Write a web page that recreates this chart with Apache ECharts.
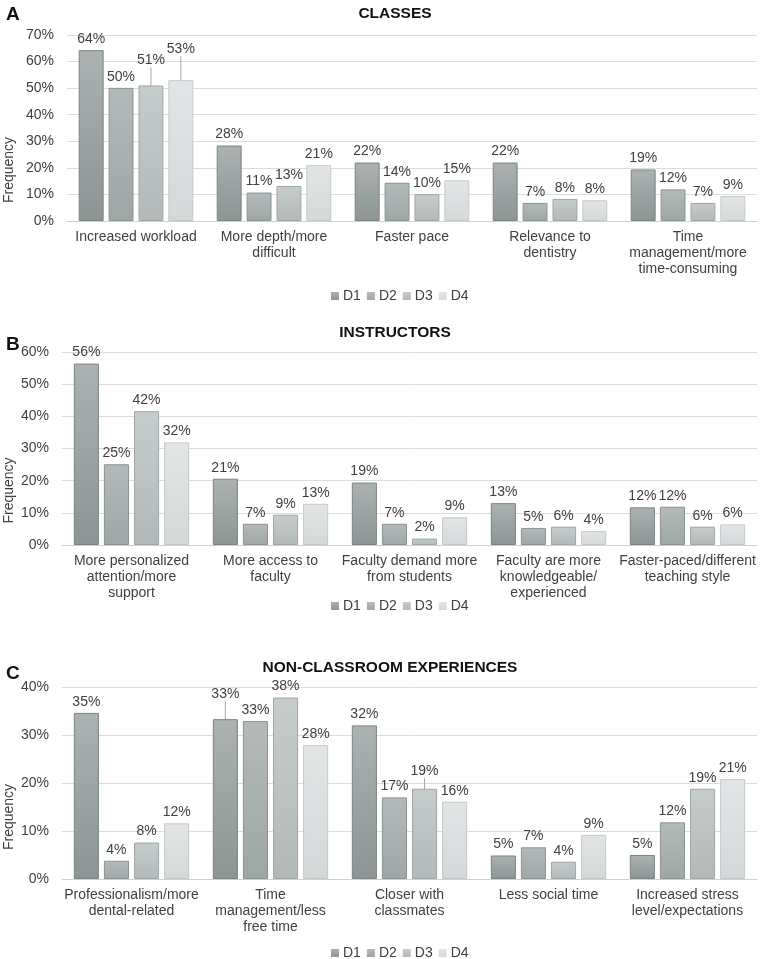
<!DOCTYPE html>
<html>
<head>
<meta charset="utf-8">
<script src="https://cdn.jsdelivr.net/npm/echarts@6/dist/echarts.min.js"></script>
<style>
html,body{margin:0;padding:0;background:#fff;}
#chart{width:761px;height:959px;}
</style>
</head>
<body>
<div id="chart"></div>
<script>
// ---- Data ----
const seriesNames = ['D1', 'D2', 'D3', 'D4'];

const categoriesA = ['Increased workload', 'More depth/more\ndifficult', 'Faster pace', 'Relevance to\ndentistry', 'Time\nmanagement/more\ntime-consuming'];
const classesD1 = [64.3, 28.4, 22.0, 22.0, 19.4];
const classesD2 = [50.1, 10.7, 14.4, 6.8, 11.9];
const classesD3 = [51.0, 13.2, 10.1, 8.3, 6.8];
const classesD4 = [53.0, 21.0, 15.3, 7.8, 9.4];
const ticksA = { max: 70, interval: 10 };

const categoriesB = ['More personalized\nattention/more\nsupport', 'More access to\nfaculty', 'Faculty demand more\nfrom students', 'Faculty are more\nknowledgeable/\nexperienced', 'Faster-paced/different\nteaching style'];
const instructorsD1 = [56.4, 20.6, 19.4, 13.0, 11.7];
const instructorsD2 = [25.1, 6.6, 6.6, 5.3, 11.9];
const instructorsD3 = [41.6, 9.4, 2.0, 5.7, 5.7];
const instructorsD4 = [31.9, 12.8, 8.6, 4.3, 6.4];
const ticksB = { max: 60, interval: 10 };

const categoriesC = ['Professionalism/more\ndental-related', 'Time\nmanagement/less\nfree time', 'Closer with\nclassmates', 'Less social time', 'Increased stress\nlevel/expectations'];
const nonClassD1 = [34.6, 33.3, 32.0, 4.9, 5.0];
const nonClassD2 = [3.8, 32.9, 17.0, 6.6, 11.8];
const nonClassD3 = [7.6, 37.8, 18.8, 3.6, 18.8];
const nonClassD4 = [11.6, 27.9, 16.1, 9.2, 20.8];
const ticksC = { max: 40, interval: 10 };

const panelTitles = ['CLASSES', 'INSTRUCTORS', 'NON-CLASSROOM EXPERIENCES'];
const panelLetters = ['A', 'B', 'C'];

// ---- Styling ----
const fillTop = ['#acb2b2', '#b4baba', '#c6cbcb', '#e2e5e5'];
const fillBottom = ['#8c9494', '#9ea6a6', '#b3b9b9', '#d4d8d8'];
const borders = ['#7a8282', '#8a9292', '#9fa6a6', '#c4c8c8'];
const textColor = '#404040';
const fontFamily = 'Liberation Sans, Arial, sans-serif';

// label displacement (leader lines): panel -> seriesIdx -> dataIndex -> dy
const labelMoves = {
  0: { 2: { 0: -14 }, 3: { 0: -20 } },
  2: { 0: { 1: -14 }, 2: { 2: -7 } }
};

const panels = [
  { cats: categoriesA, data: [classesD1, classesD2, classesD3, classesD4], ticks: ticksA },
  { cats: categoriesB, data: [instructorsD1, instructorsD2, instructorsD3, instructorsD4], ticks: ticksB },
  { cats: categoriesC, data: [nonClassD1, nonClassD2, nonClassD3, nonClassD4], ticks: ticksC }
];

const grids = [
  { left: 67, right: 4, top: 35, height: 186, containLabel: false, outerBoundsMode: 'none' },
  { left: 62, right: 4, top: 352, height: 193, containLabel: false, outerBoundsMode: 'none' },
  { left: 62, right: 4, top: 687, height: 192, containLabel: false, outerBoundsMode: 'none' }
];
const nameGaps = [51, 46, 46];
const namePads = [84, 84, 68];
const titleTops = [1, 320, 655];
const titleCenters = [390, 390, 385];
const letterTops = [0, 330, 659];
const legendTops = [284, 594, 941];

const xAxes = [], yAxes = [], series = [], titles = [], legends = [];

panels.forEach((p, pi) => {
  xAxes.push({
    type: 'category', gridIndex: pi, data: p.cats,
    axisLine: { show: true, lineStyle: { color: '#d0d0d0', width: 1 } },
    axisTick: { show: false },
    axisLabel: { color: textColor, fontSize: 14, fontFamily, lineHeight: 16, margin: 8, interval: 0 }
  });
  yAxes.push({
    type: 'value', gridIndex: pi, min: 0, max: p.ticks.max, interval: p.ticks.interval,
    name: 'Frequency', nameLocation: 'middle', nameRotate: 90, nameGap: nameGaps[pi],
    nameMoveOverlap: false,
    nameTextStyle: { color: textColor, fontSize: 14, fontFamily, padding: [0, namePads[pi], 0, 0] },
    axisLine: { show: false }, axisTick: { show: false },
    axisLabel: { color: textColor, fontSize: 14, fontFamily, formatter: '{value}%', margin: 13 },
    splitLine: { lineStyle: { color: '#dcdcdc', width: 1 } }
  });
  titles.push({
    text: panelTitles[pi], left: titleCenters[pi], top: titleTops[pi], textAlign: 'center',
    textStyle: { color: '#111', fontSize: 15.5, fontWeight: 'bold', fontFamily }
  });
  titles.push({
    text: panelLetters[pi], left: 1, top: letterTops[pi],
    textStyle: { color: '#111', fontSize: 19, fontWeight: 'bold', fontFamily }
  });
  legends.push({
    data: seriesNames, left: 326, top: legendTops[pi], icon: 'rect',
    itemWidth: 8, itemHeight: 8, itemGap: 6, selectedMode: false,
    itemStyle: { borderWidth: 0 },
    textStyle: { color: textColor, fontSize: 14, fontFamily, padding: [0, 0, 0, -1] }
  });
  p.data.forEach((vals, si) => {
    const moves = (labelMoves[pi] && labelMoves[pi][si]) || {};
    series.push({
      type: 'bar', name: seriesNames[si], xAxisIndex: pi, yAxisIndex: pi,
      data: vals.map((v, di) => moves[di]
        ? { value: v, labelLine: { show: true, lineStyle: { color: '#a6a6a6', width: 1 } } }
        : v),
      barGap: '20%', barCategoryGap: '17%',
      itemStyle: {
        color: new echarts.graphic.LinearGradient(0, 0, 0, 1, [
          { offset: 0, color: fillTop[si] }, { offset: 1, color: fillBottom[si] }
        ]),
        borderColor: borders[si], borderWidth: 1
      },
      label: {
        show: true, position: 'top', distance: 4, color: textColor, fontSize: 14, fontFamily,
        formatter: (d) => Math.round(d.value) + '%'
      },
      labelLine: { show: false },
      labelLayout: (params) => {
        const dy = moves[params.dataIndex];
        return dy ? { dy: dy } : {};
      },
      emphasis: { disabled: true },
      animation: false
    });
  });
});

const chart = echarts.init(document.getElementById('chart'), null, { renderer: 'canvas' });
chart.setOption({
  backgroundColor: '#ffffff',
  animation: false,
  title: titles,
  legend: legends,
  grid: grids,
  xAxis: xAxes,
  yAxis: yAxes,
  series: series
});
</script>
</body>
</html>
